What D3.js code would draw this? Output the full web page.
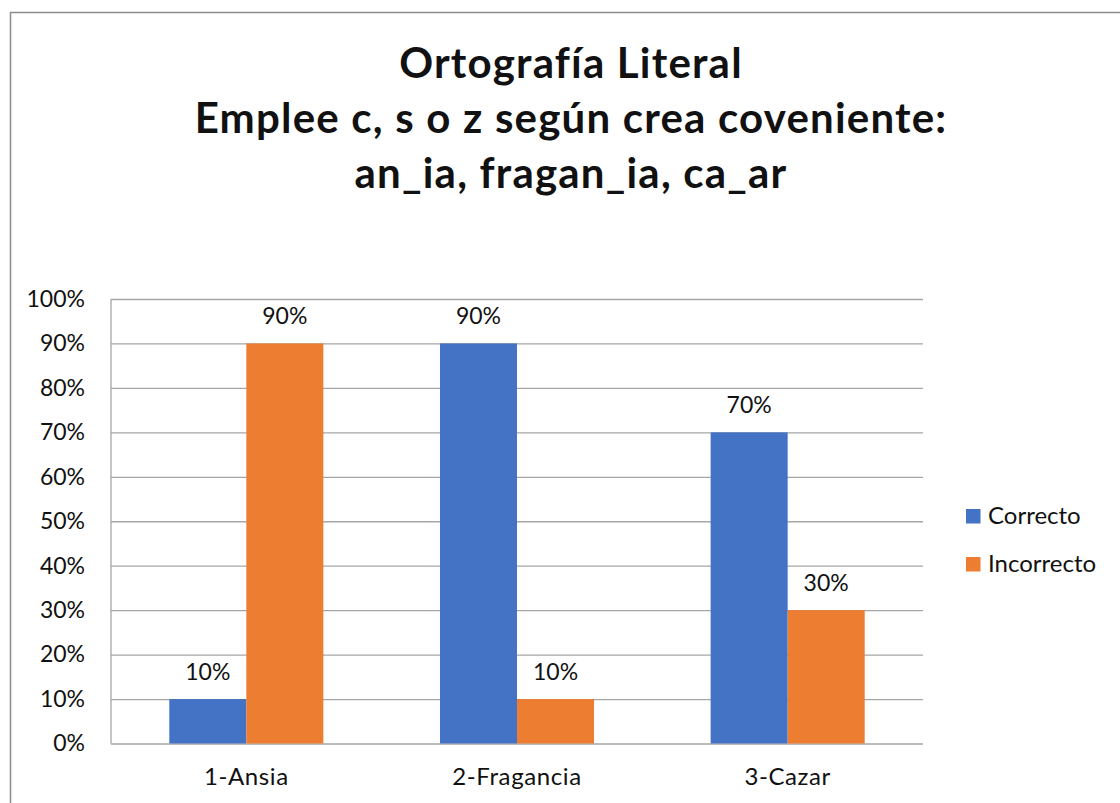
<!DOCTYPE html>
<html>
<head>
<meta charset="utf-8">
<script src="https://cdn.jsdelivr.net/npm/d3@7"></script>
<style>
  body { margin: 0; background: #fff; }
  text { font-family: Lato, "Open Sans", sans-serif; fill: #111; }
</style>
</head>
<body>
<div class="canvas"></div>
<script>
const titleLines = ["Ortografía Literal", "Emplee c, s o z según crea coveniente:", "an_ia, fragan_ia, ca_ar"];
const categories = ["1-Ansia", "2-Fragancia", "3-Cazar"];
const seriesNames = ["Correcto", "Incorrecto"];
const correcto = [0.1, 0.9, 0.7];
const incorrecto = [0.9, 0.1, 0.3];
const yTicks = [0, 0.1, 0.2, 0.3, 0.4, 0.5, 0.6, 0.7, 0.8, 0.9, 1];
const colors = ["#4472C4", "#ED7D31"];

const w = 1120;
const h = 803;

const svg = d3.select(".canvas")
  .append("svg")
  .attr("width", w)
  .attr("height", h);

// outer chart border
svg.append("rect")
  .attr("x", 10.5)
  .attr("y", 12.5)
  .attr("width", w)
  .attr("height", h)
  .attr("fill", "#fff")
  .attr("stroke", "#8c8c8c")
  .attr("stroke-width", 1.5);

// title
svg.append("text")
  .attr("text-anchor", "middle")
  .attr("font-weight", "bold")
  .attr("font-size", 42)
  .attr("letter-spacing", 1.2)
  .selectAll("tspan")
  .data(titleLines)
  .enter()
  .append("tspan")
  .attr("x", 571)
  .attr("y", (d, i) => 78 + i * 55)
  .text(d => d);

// plot area
const margin = { top: 299, left: 111, right: 197, bottom: 59.5 };
const graphWidth = w - margin.left - margin.right;
const graphHeight = h - margin.top - margin.bottom;

const graph = svg.append("g")
  .attr("transform", `translate(${margin.left}, ${margin.top})`);

const y = d3.scaleLinear().domain([0, 1]).range([graphHeight, 0]);
const x0 = d3.scaleBand().domain(categories).range([0, graphWidth]);
const x1 = d3.scaleBand()
  .domain(seriesNames)
  .range([0, x0.bandwidth()])
  .paddingInner(0)
  .paddingOuter(0.757);

// gridlines
const grid = graph.append("g")
  .call(d3.axisLeft(y).tickValues(yTicks).tickSize(-graphWidth).tickFormat(""));
grid.select(".domain").remove();
grid.selectAll("line").attr("stroke", "#a6a6a6").attr("stroke-width", 1.3);

// vertical axis line
graph.append("line")
  .attr("x1", 0).attr("x2", 0)
  .attr("y1", 0).attr("y2", graphHeight)
  .attr("stroke", "#a6a6a6")
  .attr("stroke-width", 1.3);

// bars
const rows = categories.map((c, i) => ({ cat: c, values: [correcto[i], incorrecto[i]] }));

const groups = graph.selectAll(".group")
  .data(rows)
  .enter()
  .append("g")
  .attr("transform", d => `translate(${x0(d.cat)}, 0)`);

groups.selectAll("rect")
  .data(d => d.values.map((v, j) => ({ name: seriesNames[j], v, j })))
  .enter()
  .append("rect")
  .attr("x", d => x1(d.name))
  .attr("y", d => y(d.v))
  .attr("width", x1.bandwidth())
  .attr("height", d => graphHeight - y(d.v))
  .attr("fill", d => colors[d.j]);

// data labels
groups.selectAll(".label")
  .data(d => d.values.map((v, j) => ({ name: seriesNames[j], v, j })))
  .enter()
  .append("text")
  .attr("x", d => x1(d.name) + x1.bandwidth() / 2)
  .attr("y", d => y(d.v) - 19)
  .attr("text-anchor", "middle")
  .attr("font-size", 23)
  .text(d => d3.format(".0%")(d.v));

// y axis labels
const yAxisGroup = graph.append("g")
  .call(d3.axisLeft(y).tickValues(yTicks).tickSize(0).tickPadding(26).tickFormat(d3.format(".0%")));
yAxisGroup.select(".domain").remove();
yAxisGroup.selectAll("text")
  .attr("font-size", 23)
  .attr("fill", "#111")
  .style("font-family", "Lato, 'Open Sans', sans-serif");

// x axis labels
const xAxisGroup = graph.append("g")
  .attr("transform", `translate(0, ${graphHeight})`)
  .call(d3.axisBottom(x0).tickSize(0).tickPadding(24));
xAxisGroup.select(".domain").remove();
xAxisGroup.selectAll("text")
  .attr("font-size", 24)
  .attr("letter-spacing", 0.6)
  .attr("fill", "#111")
  .style("font-family", "Lato, 'Open Sans', sans-serif");

// legend
const legend = svg.append("g")
  .attr("transform", "translate(966, 509)");
const items = legend.selectAll("g")
  .data(seriesNames)
  .enter()
  .append("g")
  .attr("transform", (d, i) => `translate(0, ${i * 48})`);
items.append("rect")
  .attr("width", 14.5)
  .attr("height", 14.5)
  .attr("fill", (d, i) => colors[i]);
items.append("text")
  .attr("x", 22)
  .attr("y", 15)
  .attr("font-size", 24)
  .text(d => d);
</script>
</body>
</html>
